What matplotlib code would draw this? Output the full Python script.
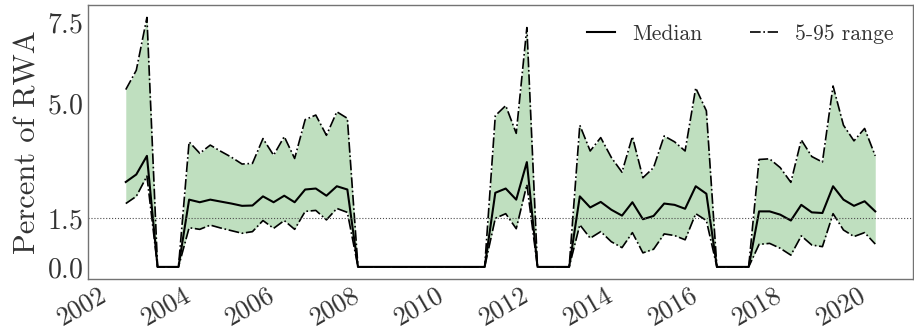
import numpy as np
import pandas as pd
import matplotlib
matplotlib.use("Agg")
import matplotlib.pyplot as plt
import matplotlib.dates as mdates

plt.rcParams["font.family"] = ["cmr10", "DejaVu Serif"]
plt.rcParams["mathtext.fontset"] = "cm"
plt.rcParams["axes.formatter.use_mathtext"] = True

# quarterly observations, 2002Q2 .. 2020Q1 (mid-quarter dates)
dates = pd.date_range("2002-04-01", periods=72, freq="QS") + pd.Timedelta(days=45)

median = [2.60, 2.83, 3.40, 0, 0, 0,
          2.06, 1.98, 2.06, 2.00, 1.94, 1.87, 1.88, 2.16, 1.98, 2.18, 1.98, 2.37, 2.40, 2.18, 2.47, 2.37,
          0, 0, 0, 0, 0, 0, 0, 0, 0, 0, 0, 0, 0,
          2.27, 2.40, 2.06, 3.21,
          0, 0, 0, 0,
          2.16, 1.82, 1.99, 1.75, 1.57, 1.98, 1.46, 1.56, 1.94, 1.90, 1.78, 2.47, 2.24,
          0, 0, 0, 0,
          1.70, 1.70, 1.60, 1.42, 1.90, 1.67, 1.65, 2.47, 2.06, 1.87, 2.01, 1.70]

upper = [5.43, 6.02, 7.64, 0, 0, 0,
         3.83, 3.48, 3.73, 3.54, 3.36, 3.15, 3.17, 3.93, 3.42, 3.99, 3.32, 4.51, 4.65, 4.03, 4.75, 4.55,
         0, 0, 0, 0, 0, 0, 0, 0, 0, 0, 0, 0, 0,
         4.63, 4.94, 4.09, 7.33,
         0, 0, 0, 0,
         4.34, 3.55, 3.96, 3.35, 2.90, 3.99, 2.73, 3.04, 4.01, 3.83, 3.55, 5.48, 4.78,
         0, 0, 0, 0,
         3.29, 3.31, 3.04, 2.59, 3.89, 3.38, 3.21, 5.54, 4.34, 3.86, 4.24, 3.40]

lower = [1.94, 2.16, 2.78, 0, 0, 0,
         1.20, 1.15, 1.28, 1.19, 1.11, 1.03, 1.08, 1.42, 1.18, 1.42, 1.15, 1.70, 1.73, 1.44, 1.79, 1.67,
         0, 0, 0, 0, 0, 0, 0, 0, 0, 0, 0, 0, 0,
         1.49, 1.63, 1.17, 2.52,
         0, 0, 0, 0,
         1.29, 0.88, 1.08, 0.77, 0.59, 1.05, 0.43, 0.54, 1.01, 0.96, 0.83, 1.63, 1.42,
         0, 0, 0, 0,
         0.69, 0.72, 0.57, 0.36, 0.95, 0.67, 0.62, 1.63, 1.13, 0.93, 1.05, 0.70]

yticks = [0.0, 1.5, 5.0, 7.5]
threshold = 1.5

fig = plt.figure(figsize=(9.14, 3.31), dpi=100)
ax = fig.add_axes([0.0966, 0.156, 0.902, 0.829])

ax.fill_between(dates, lower, upper, color="g", alpha=0.25, linewidth=0)
ax.plot(dates, median, color="k", lw=1.5, label="Median")
ax.plot(dates, upper, color="k", lw=1.2, ls="-.", label="5-95 range")
ax.plot(dates, lower, color="k", lw=1.2, ls="-.")
ax.axhline(threshold, color="0.3", lw=0.8, ls=":")

ax.set_yticks(yticks)
ax.set_ylabel("Percent of RWA", fontsize=22, color="0.2")
ax.xaxis.set_major_locator(mdates.YearLocator(2))
ax.xaxis.set_major_formatter(mdates.DateFormatter("%Y"))
ax.tick_params(axis="both", length=0, colors="0.2")
ax.tick_params(axis="y", labelsize=20)
ax.tick_params(axis="x", labelsize=19, pad=2.5)
for lab in ax.get_xticklabels():
    lab.set_rotation(30)
    lab.set_ha("right")
for s in ax.spines.values():
    s.set_color("0.45")
    s.set_linewidth(1.0)

ax.legend(loc="upper right", ncol=2, frameon=False, fontsize=15.5,
          handlelength=1.3, columnspacing=2.2, handletextpad=0.8,
          labelcolor="0.2")

fig.savefig("out.png", dpi=100)
